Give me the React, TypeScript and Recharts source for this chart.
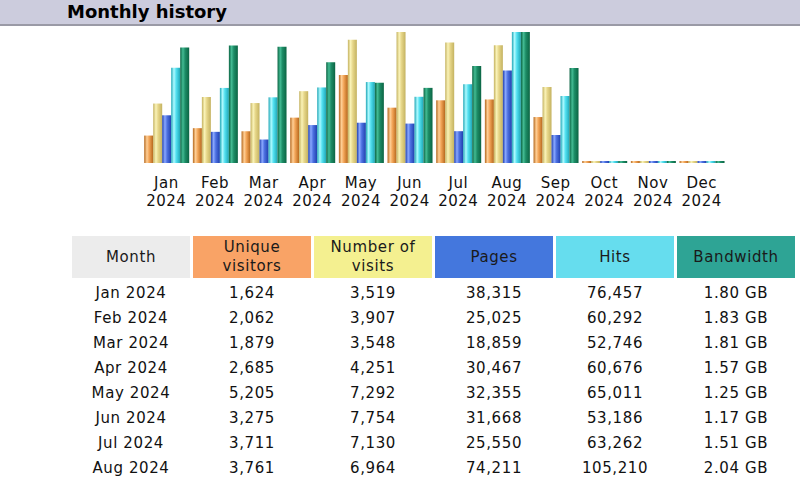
import React from 'react';
import { BarChart, Bar, XAxis, YAxis } from 'recharts';

const months = ['Jan', 'Feb', 'Mar', 'Apr', 'May', 'Jun', 'Jul', 'Aug', 'Sep', 'Oct', 'Nov', 'Dec'];
const year = '2024';
const visitors = [1624, 2062, 1879, 2685, 5205, 3275, 3711, 3761, 2720, 0, 0, 0];
const visits = [3519, 3907, 3548, 4251, 7292, 7754, 7130, 6964, 4500, 0, 0, 0];
const pages = [38315, 25025, 18859, 30467, 32355, 31668, 25550, 74211, 22500, 0, 0, 0];
const hits = [76457, 60292, 52746, 60676, 65011, 53186, 63262, 105210, 53800, 0, 0, 0];
const bandwidth = [1.8, 1.83, 1.81, 1.57, 1.25, 1.17, 1.51, 2.04, 1.48, 0, 0, 0];

const tableRows = 8;

const data = months.map((m, i) => ({
  month: m,
  visitors: visitors[i],
  visits: visits[i],
  pages: pages[i],
  hits: hits[i],
  bandwidth: bandwidth[i],
}));

const fmt = (n: number) => n.toLocaleString('en-US');

const gradients = [
  { id: 'gU', edge: '#b5671c', light: '#ffcf96', mid: '#f2a457' },
  { id: 'gV', edge: '#c4b260', light: '#faf3b8', mid: '#e6d689' },
  { id: 'gP', edge: '#1f3fae', light: '#8aa8ff', mid: '#4c70e0' },
  { id: 'gH', edge: '#1ea6b6', light: '#aefaff', mid: '#52e0f0' },
  { id: 'gK', edge: '#0b6443', light: '#43bb93', mid: '#1d8c66' },
];

const headers = [
  { label: 'Month', bg: '#ececec' },
  { label: 'Unique\nvisitors', bg: '#f9a366' },
  { label: 'Number of\nvisits', bg: '#f4f090' },
  { label: 'Pages', bg: '#4477dd' },
  { label: 'Hits', bg: '#66ddee' },
  { label: 'Bandwidth', bg: '#2ea495' },
];

const MonthTick = (props: any) => {
  const { x, y, payload } = props;
  return (
    <text x={x} y={y} textAnchor="middle" fill="#111" fontSize={15} fontFamily="DejaVu Sans" letterSpacing={0.5}>
      <tspan x={x} y={y + 17}>{payload.value}</tspan>
      <tspan x={x} y={y + 35}>{year}</tspan>
    </text>
  );
};

export default function App() {
  const font = '"DejaVu Sans", Verdana, sans-serif';
  const cell = (i: number) => ({ height: 25, lineHeight: '25px', marginTop: i === 0 ? 3 : 0 });
  return (
    <div style={{ position: 'absolute', left: 0, top: 0, width: 800, height: 480, overflow: 'hidden', background: '#fff', fontFamily: font }}>
      <div style={{ position: 'absolute', left: 0, top: 0, width: 800, height: 24, background: '#ccccdd', borderBottom: '2px solid #9a9aa6' }}>
        <span style={{ position: 'absolute', left: 67, top: 0, fontSize: 18, fontWeight: 'bold', lineHeight: '23px', color: '#000' }}>
          Monthly history
        </span>
      </div>

      <div style={{ position: 'absolute', left: 0, top: 26 }}>
        <BarChart
          width={800}
          height={200}
          data={data}
          margin={{ top: 6, right: 74, bottom: 13, left: 142 }}
          barCategoryGap={2.2}
          barGap={0}
        >
          <defs>
            {gradients.map((g) => (
              <linearGradient key={g.id} id={g.id} x1="0" y1="0" x2="1" y2="0">
                <stop offset="0%" stopColor={g.edge} />
                <stop offset="30%" stopColor={g.light} />
                <stop offset="55%" stopColor={g.mid} />
                <stop offset="100%" stopColor={g.edge} />
              </linearGradient>
            ))}
          </defs>
          <XAxis dataKey="month" axisLine={false} tickLine={false} height={50} interval={0} tick={<MonthTick />} />
          <YAxis yAxisId="v" hide domain={[0, 7754]} />
          <YAxis yAxisId="h" hide domain={[0, 105210]} />
          <YAxis yAxisId="k" hide domain={[0, 2.04]} />
          <Bar dataKey="visitors" yAxisId="v" fill="url(#gU)" minPointSize={2} isAnimationActive={false} />
          <Bar dataKey="visits" yAxisId="v" fill="url(#gV)" minPointSize={2} isAnimationActive={false} />
          <Bar dataKey="pages" yAxisId="h" fill="url(#gP)" minPointSize={2} isAnimationActive={false} />
          <Bar dataKey="hits" yAxisId="h" fill="url(#gH)" minPointSize={2} isAnimationActive={false} />
          <Bar dataKey="bandwidth" yAxisId="k" fill="url(#gK)" minPointSize={2} isAnimationActive={false} />
        </BarChart>
      </div>

      <div
        style={{
          position: 'absolute',
          left: 72,
          top: 236,
          display: 'grid',
          gridTemplateColumns: 'repeat(6, 118px)',
          columnGap: 3,
          fontSize: 15,
          letterSpacing: 0.6,
          color: '#111',
          textAlign: 'center',
        }}
      >
        {headers.map((h) => (
          <div
            key={h.label}
            style={{
              background: h.bg,
              height: 42,
              display: 'flex',
              alignItems: 'center',
              justifyContent: 'center',
              whiteSpace: 'pre-line',
              lineHeight: '19px',
              color: '#1a1a1a',
            }}
          >
            {h.label}
          </div>
        ))}
        {months.slice(0, tableRows).map((m, i) => (
          <React.Fragment key={m}>
            <div style={cell(i)}>{m} {year}</div>
            <div style={cell(i)}>{fmt(visitors[i])}</div>
            <div style={cell(i)}>{fmt(visits[i])}</div>
            <div style={cell(i)}>{fmt(pages[i])}</div>
            <div style={cell(i)}>{fmt(hits[i])}</div>
            <div style={cell(i)}>{bandwidth[i].toFixed(2)} GB</div>
          </React.Fragment>
        ))}
      </div>
    </div>
  );
}
